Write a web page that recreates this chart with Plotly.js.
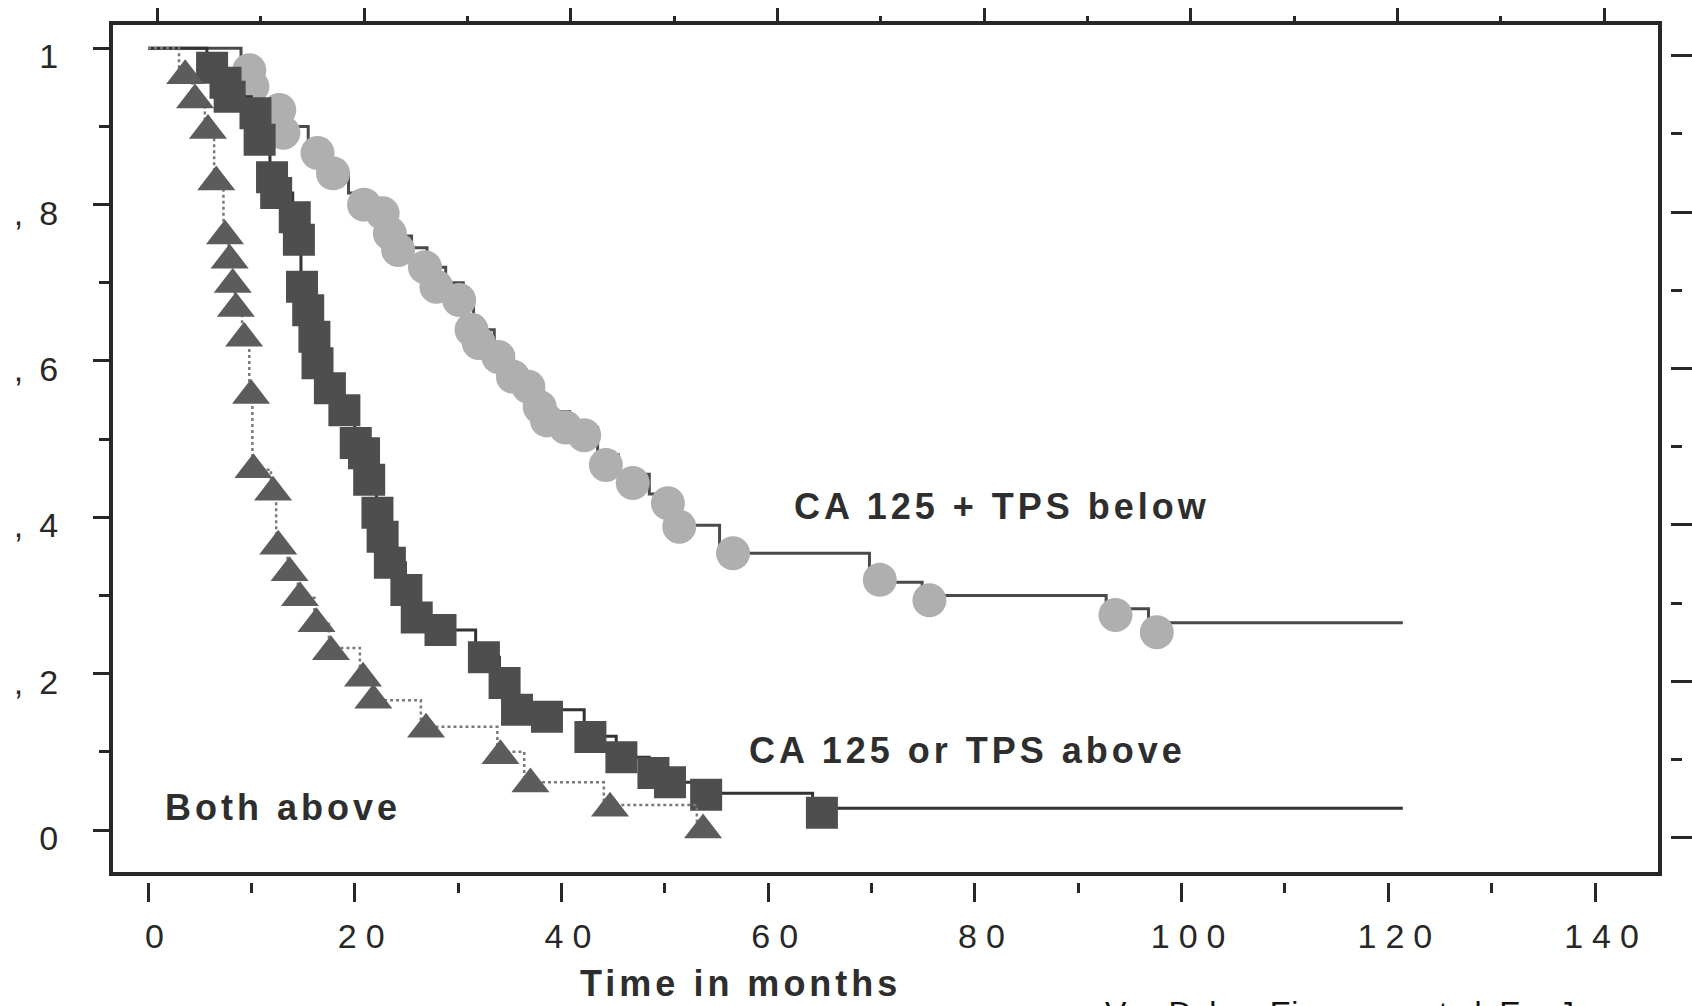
<!DOCTYPE html>
<html>
<head>
<meta charset="utf-8">
<script src="https://cdn.plot.ly/plotly-3.0.1.min.js"></script>
<style>
  html, body { margin: 0; padding: 0; background: #ffffff; }
  #chart { width: 1692px; height: 1006px; }
  /* wide tracking of the typewriter-style labels */
  .x2tick text { letter-spacing: 9px; }
  .ytick text { letter-spacing: 16px; }
  .annotation[data-index="0"] .annotation-text,
  .annotation[data-index="1"] .annotation-text,
  .annotation[data-index="2"] .annotation-text,
  .annotation[data-index="3"] .annotation-text { letter-spacing: 4px; }
</style>
</head>
<body>
<div id="chart"></div>
<script>
// Kaplan-Meier survival by tumour marker status (time in months)

// CA 125 + TPS below: step curve
const belowStepT = [0, 9.0, 10.5, 15.5, 17.5, 19.4, 21.5, 23.5, 25.5, 27.0, 28.8, 30.5, 31.5, 33.5, 35.3, 37.0, 38.3, 40.8, 43.5, 45.5, 48.5, 50.8, 55.3, 69.8, 74.9, 92.7, 96.8, 121.4];
const belowStepS = [1.0, 0.97, 0.90, 0.875, 0.84, 0.815, 0.79, 0.76, 0.745, 0.72, 0.70, 0.675, 0.64, 0.61, 0.585, 0.56, 0.535, 0.515, 0.48, 0.455, 0.43, 0.39, 0.354, 0.317, 0.30, 0.283, 0.265, 0.265];
// CA 125 + TPS below: marked cases
const belowMarkT = [9.8, 10.1, 12.7, 13.1, 16.4, 17.9, 20.9, 22.7, 23.4, 24.2, 26.8, 27.9, 30.1, 31.3, 32.0, 33.9, 35.3, 36.8, 37.9, 38.6, 40.4, 42.2, 44.3, 46.9, 50.3, 51.4, 56.6, 70.8, 75.6, 93.6, 97.6];
const belowMarkS = [0.972, 0.951, 0.921, 0.892, 0.866, 0.84, 0.80, 0.789, 0.763, 0.742, 0.72, 0.695, 0.678, 0.64, 0.623, 0.605, 0.58, 0.567, 0.541, 0.524, 0.515, 0.505, 0.467, 0.444, 0.418, 0.388, 0.354, 0.32, 0.294, 0.275, 0.253];

// CA 125 or TPS above: step curve
const eitherStepT = [0, 5.7, 7.0, 7.7, 10.0, 10.6, 11.8, 12.3, 14.0, 14.5, 14.8, 15.4, 16.0, 16.4, 17.4, 18.8, 20.0, 20.8, 21.3, 22.1, 22.6, 23.3, 24.9, 25.9, 27.8, 31.7, 34.0, 35.3, 42.2, 45.3, 48.5, 50.2, 53.5, 64.3, 121.4];
const eitherStepS = [1.0, 0.975, 0.956, 0.938, 0.917, 0.883, 0.835, 0.815, 0.784, 0.755, 0.695, 0.665, 0.631, 0.597, 0.565, 0.537, 0.495, 0.482, 0.448, 0.406, 0.375, 0.342, 0.307, 0.272, 0.256, 0.221, 0.188, 0.154, 0.12, 0.093, 0.073, 0.061, 0.047, 0.028, 0.028];
// CA 125 or TPS above: marked cases
const eitherMarkT = [6.2, 7.5, 7.9, 10.4, 10.8, 12.0, 12.4, 14.2, 14.6, 14.9, 15.5, 16.1, 16.4, 17.6, 19.0, 20.1, 20.9, 21.4, 22.2, 22.7, 23.4, 25.0, 26.0, 28.3, 32.5, 34.5, 35.7, 38.6, 42.8, 45.8, 48.9, 50.5, 54.0, 65.2];
const eitherMarkS = [0.975, 0.956, 0.938, 0.917, 0.883, 0.835, 0.815, 0.784, 0.755, 0.695, 0.665, 0.631, 0.597, 0.565, 0.537, 0.495, 0.482, 0.448, 0.406, 0.375, 0.342, 0.307, 0.272, 0.256, 0.221, 0.188, 0.154, 0.145, 0.119, 0.093, 0.073, 0.061, 0.045, 0.022];

// Both above: step curve
const bothStepT = [0, 3.0, 4.3, 5.5, 6.4, 7.3, 7.8, 8.1, 8.4, 9.1, 9.8, 10.1, 11.9, 12.4, 13.5, 14.5, 16.1, 17.5, 20.5, 21.6, 26.4, 33.8, 36.4, 44.1, 53.1];
const bothStepS = [1.0, 0.965, 0.934, 0.895, 0.829, 0.760, 0.729, 0.698, 0.667, 0.629, 0.556, 0.461, 0.432, 0.363, 0.329, 0.297, 0.264, 0.233, 0.194, 0.166, 0.132, 0.10, 0.061, 0.032, 0.0];
// Both above: marked cases
const bothMarkT = [3.6, 4.55, 5.8, 6.6, 7.45, 7.9, 8.2, 8.5, 9.3, 9.97, 10.2, 12.1, 12.6, 13.7, 14.7, 16.3, 17.7, 20.8, 21.8, 26.9, 34.1, 37.0, 44.7, 53.7];
const bothMarkS = [0.965, 0.934, 0.895, 0.829, 0.760, 0.729, 0.698, 0.667, 0.629, 0.556, 0.461, 0.432, 0.363, 0.329, 0.297, 0.264, 0.228, 0.194, 0.166, 0.129, 0.095, 0.059, 0.028, 0.0];

// Axis ticks and labels
const xTickVals = [0, 20, 40, 60, 80, 100, 120, 140];
const xTickText = ['0', '20', '40', '60', '80', '100', '120', '140'];
const xMinorVals = [10, 30, 50, 70, 90, 110, 130];
const yTickVals = [0, 0.2, 0.4, 0.6, 0.8, 1];
const yTickText = ['0', ',2', ',4', ',6', ',8', '1'];
const yMinorVals = [0.1, 0.3, 0.5, 0.7, 0.9];

const groupLabels = ['CA 125 + TPS below', 'CA 125 or TPS above', 'Both above'];
const xTitle = 'Time in months';
const sourceNote = 'Van Dalen, Einarsson et al, Eur J';

const INK = '#272727';
const XR = [-3.386, 146.09];
const XR_TOP = [-4.286, 145.19];   // top tick row sits slightly right of the bottom row
const YR = [-0.0537, 1.0298];
const YR_RIGHT = [-0.0441, 1.0394]; // right tick row sits slightly lower than the left one
const XDOM = [0, 0.99229];
const YDOM = [0.011669, 1];

function stepTrace(t, s, color, width, dash) {
  return { type: 'scatter', mode: 'lines', x: t, y: s, xaxis: 'x', yaxis: 'y',
           line: { shape: 'hv', color: color, width: width, dash: dash },
           hoverinfo: 'skip', showlegend: false };
}
function markTrace(t, s, symbol, size, color) {
  return { type: 'scatter', mode: 'markers', x: t, y: s, xaxis: 'x', yaxis: 'y',
           marker: { symbol: symbol, size: size, color: color, line: { width: 0 } },
           hoverinfo: 'skip', showlegend: false };
}

const data = [
  stepTrace(belowStepT, belowStepS, '#4a4a4a', 3, 'solid'),
  markTrace(belowMarkT, belowMarkS, 'circle', 34, '#afafaf'),
  stepTrace(eitherStepT, eitherStepS, '#333333', 3, 'solid'),
  markTrace(eitherMarkT, eitherMarkS, 'square', 32, '#4e4e4e'),
  stepTrace(bothStepT, bothStepS, '#7a7a7a', 2.5, 'dot'),
  markTrace(bothMarkT, bothMarkS, 'triangle-up', 33, '#5c5c5c'),
  // carriers for the detached tick rows
  { type: 'scatter', x: [], y: [], xaxis: 'x2', yaxis: 'y2', hoverinfo: 'skip', showlegend: false },
  { type: 'scatter', x: [], y: [], xaxis: 'x3', yaxis: 'y', hoverinfo: 'skip', showlegend: false }
];

const tickFont = { family: 'Liberation Sans, Arial, sans-serif', size: 34, color: INK };
const boldFont = { family: 'Liberation Sans, Arial, sans-serif', size: 36, color: '#2e2e2e', weight: 'bold' };

const layout = {
  width: 1692, height: 1006,
  margin: { l: 113, r: 22, t: 25, b: 124, pad: 0 },
  paper_bgcolor: '#ffffff', plot_bgcolor: '#ffffff',
  showlegend: false,
  // frame
  xaxis: { domain: XDOM, range: XR, showline: true, mirror: true, linewidth: 4, linecolor: INK,
           ticks: '', showticklabels: false, showgrid: false, zeroline: false },
  // detached bottom ticks with labels
  xaxis2: { overlaying: 'x', anchor: 'free', position: 0, range: XR, showline: false,
            showgrid: false, zeroline: false, tickmode: 'array', tickvals: xTickVals, ticktext: xTickText,
            ticks: 'outside', ticklen: 19, tickwidth: 3, tickcolor: INK,
            minor: { tickmode: 'array', tickvals: xMinorVals, ticks: 'outside', ticklen: 10, tickwidth: 3, tickcolor: INK, showgrid: false },
            tickfont: tickFont, ticklabelstandoff: 5, ticklabelshift: 11 },
  // top ticks
  xaxis3: { overlaying: 'x', anchor: 'y', side: 'top', range: XR_TOP, showline: false,
            showgrid: false, zeroline: false, tickmode: 'array', tickvals: xTickVals,
            ticks: 'outside', ticklen: 16, tickwidth: 3, tickcolor: INK, showticklabels: false,
            minor: { tickmode: 'array', tickvals: xMinorVals, ticks: 'outside', ticklen: 8, tickwidth: 3, tickcolor: INK, showgrid: false } },
  yaxis: { domain: YDOM, range: YR, showline: true, mirror: true, linewidth: 4, linecolor: INK,
           showgrid: false, zeroline: false, tickmode: 'array', tickvals: yTickVals, ticktext: yTickText,
           ticks: 'outside', ticklen: 16, tickwidth: 3, tickcolor: INK,
           minor: { tickmode: 'array', tickvals: yMinorVals, ticks: 'outside', ticklen: 10, tickwidth: 3, tickcolor: INK, showgrid: false },
           tickfont: tickFont, ticklabelstandoff: 12, ticklabelshift: 8 },
  // detached right ticks
  yaxis2: { overlaying: 'y', anchor: 'free', position: 1, side: 'right', range: YR_RIGHT, showline: false,
            showgrid: false, zeroline: false, tickmode: 'array', tickvals: yTickVals,
            ticks: 'outside', ticklen: 22, tickwidth: 3, tickcolor: INK, showticklabels: false,
            minor: { tickmode: 'array', tickvals: yMinorVals, ticks: 'outside', ticklen: 11, tickwidth: 3, tickcolor: INK, showgrid: false } },
  annotations: [
    { xref: 'paper', yref: 'paper', x: 0.571, y: 0.4376, xanchor: 'center', yanchor: 'middle',
      text: groupLabels[0], showarrow: false, font: boldFont },
    { xref: 'paper', yref: 'paper', x: 0.5491, y: 0.1540, xanchor: 'center', yanchor: 'middle',
      text: groupLabels[1], showarrow: false, font: boldFont },
    { xref: 'paper', yref: 'paper', x: 0.1092, y: 0.0875, xanchor: 'center', yanchor: 'middle',
      text: groupLabels[2], showarrow: false, font: boldFont },
    { xref: 'paper', yref: 'paper', x: 0.4027, y: -0.1190, xanchor: 'center', yanchor: 'middle',
      text: xTitle, showarrow: false, font: boldFont },
    { xref: 'paper', yref: 'paper', x: 0.6358, y: -0.1295, xanchor: 'left', yanchor: 'top',
      text: sourceNote, showarrow: false,
      font: { family: 'Liberation Sans, Arial, sans-serif', size: 32, color: '#111111' } }
  ]
};

Plotly.newPlot('chart', data, layout, { staticPlot: true, displayModeBar: false });
</script>
</body>
</html>
